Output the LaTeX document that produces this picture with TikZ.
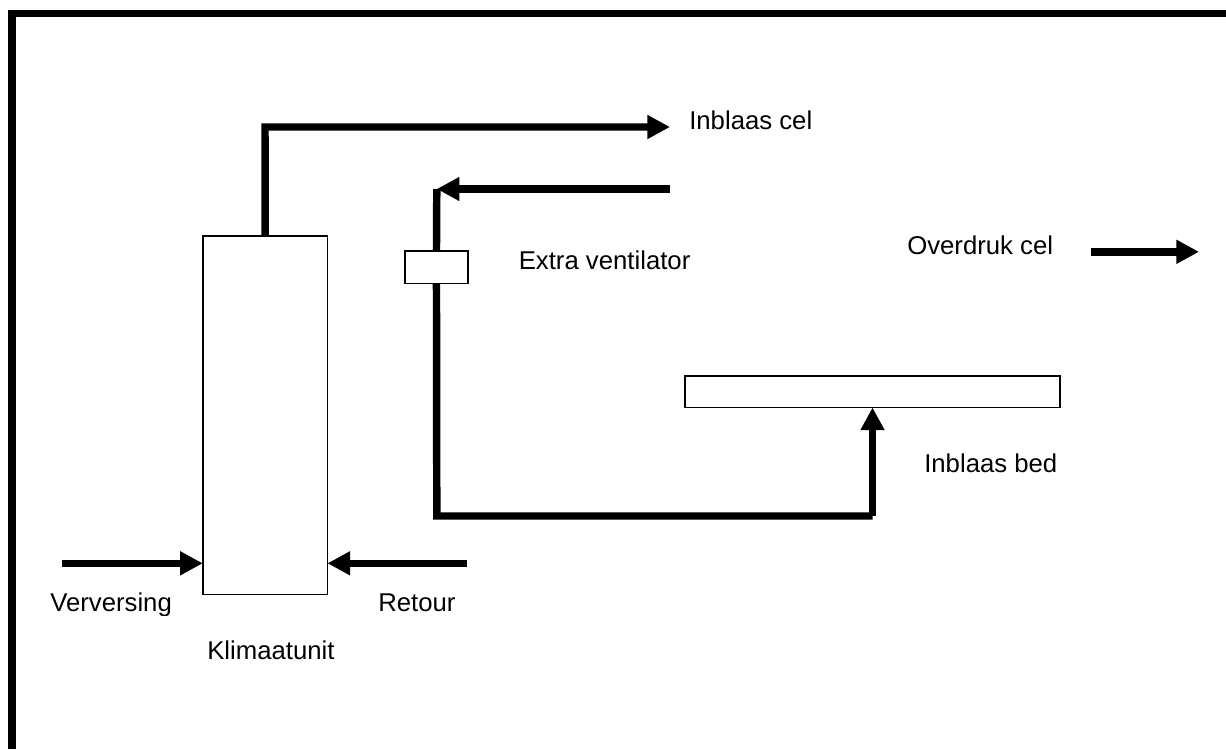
\documentclass[tikz,border=0pt]{standalone}
\usepackage{fontspec}
\setmainfont{Liberation Sans}
\usetikzlibrary{arrows.meta,positioning,calc}

\begin{document}
\begin{tikzpicture}[x=0.75pt,y=-0.75pt,>={Triangle[length=17pt,width=17pt]},
   duct/.style={line width=5.6pt},
   unit/.style={draw,line width=1.1pt,minimum size=0pt,inner sep=0pt,outer sep=0pt,anchor=north west},
   lbl/.style={inner sep=0pt,anchor=base west,font=\fontsize{19.3}{23}\selectfont}]
  \useasboundingbox (0,0) rectangle (1226,749);
  % outer frame
  \coordinate (fa) at (12,749);
  \coordinate (fb) at (12,13.6);
  \coordinate (fc) at (1226,13.6);
  \draw[line width=5.6pt] (fa) -- (fb) -- (fc);
  % boxes
  \node[unit,minimum width=93.5pt,minimum height=268.9pt] (klimaat) at (202.8,236) {};
  \node[unit,minimum width=47.5pt,minimum height=24.4pt] (fan) at (404.8,251) {};
  \node[unit,minimum width=281.3pt,minimum height=23.6pt] (bed) at (685,376) {};
  % supply to cell
  \coordinate (c1) at (265,127);
  \coordinate (c2) at (670,127);
  \draw[duct,->] (klimaat.north) -- (c1) -- (c2);
  % return through extra fan
  \coordinate (r1) at (670,189);
  \coordinate (r2) at (436.8,189);
  \coordinate (r3) at (436.8,516);
  \coordinate (r4) at (872.5,516);
  \draw[duct,->] (r1) -- (r2);
  \draw[duct] (r2) -- (fan.north);
  \draw[duct] (fan.south) -- (r3) -- (r4);
  \draw[duct,->] (r4) -- (bed.south -| r4);
  % in and out of the unit
  \coordinate (v1) at (62,563.3);
  \coordinate (t1) at (467,563.3);
  \coordinate (o1) at (1091,251.8);
  \coordinate (o2) at (1199,251.8);
  \draw[duct,->] (v1) -- (klimaat.west |- v1);
  \draw[duct,->] (t1) -- (klimaat.east |- t1);
  \draw[duct,->] (o1) -- (o2);
  % labels
  \node[lbl] (inblaascel) at (689,129) {Inblaas cel};
  \node[lbl] (extra) at (518.5,269) {Extra ventilator};
  \node[lbl] (overdruk) at (907,254) {Overdruk cel};
  \node[lbl] (inblaasbed) at (924,472) {Inblaas bed};
  \node[lbl] (retour) at (378,611) {Retour};
  \node[lbl] (klimaattxt) at (207,659) {Klimaatunit};
  \begin{scope}
    \clip (40,580) rectangle (190,615);
    \node[lbl] (ververs) at (50,611) {Verversing};
  \end{scope}
\end{tikzpicture}
\end{document}
